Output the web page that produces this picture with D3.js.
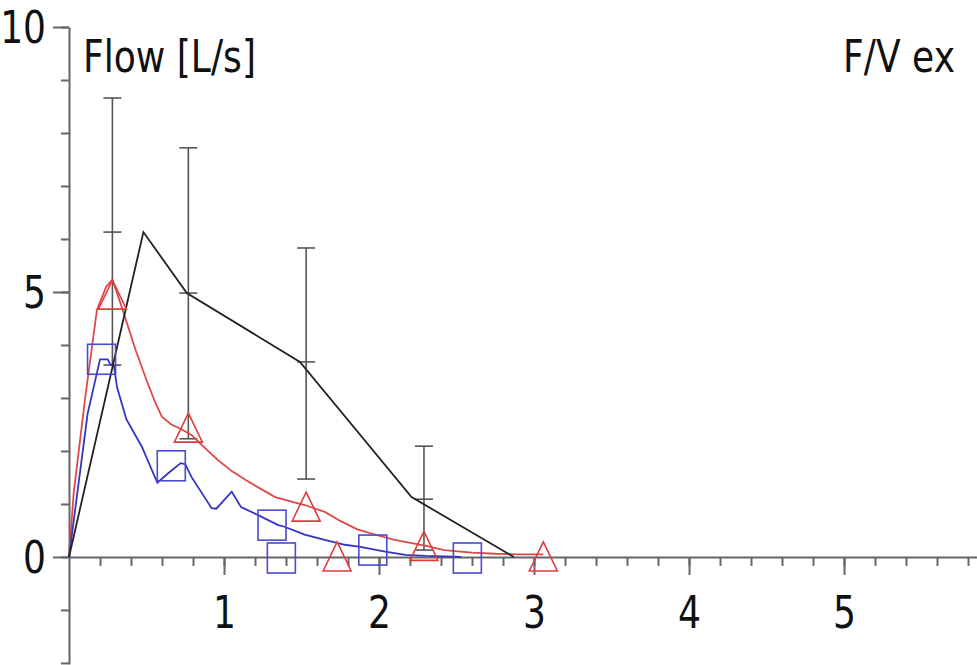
<!DOCTYPE html>
<html>
<head>
<meta charset="utf-8">
<script src="https://cdn.jsdelivr.net/npm/d3@7"></script>
<style>
    body { margin: 0; background: #fff; }
    svg text { font-family: 'DejaVu Sans', sans-serif; fill: #111; }
</style>
</head>
<body>
<svg></svg>
<script>
// Mean curve (black) with error bars
const meanX = [0, 0.48, 0.76, 1.49, 2.21, 2.87]
const meanY = [0, 6.13, 4.98, 3.68, 1.13, 0]

const errX = [0.28, 0.77, 1.53, 2.29]
const errMid = [6.13, 4.98, 3.68, 1.09]
const errHi = [8.66, 7.72, 5.83, 2.09]
const errLo = [3.62, 2.23, 1.47, 0.13]

// Red curve + triangle markers
const redX = [0, 0.03, 0.1, 0.18, 0.24, 0.28, 0.34, 0.43, 0.5, 0.55, 0.6, 0.66, 0.72, 0.79, 0.88, 0.96, 1.05, 1.14, 1.24, 1.33, 1.43, 1.52, 1.65, 1.75, 1.86, 2.0, 2.1, 2.21, 2.32, 2.42, 2.6, 2.75, 2.9, 3.06]
const redY = [0, 1.2, 2.9, 4.66, 5.1, 5.23, 4.72, 3.9, 3.34, 2.96, 2.64, 2.5, 2.42, 2.3, 2.05, 1.83, 1.62, 1.45, 1.28, 1.13, 1.05, 0.98, 0.85, 0.68, 0.52, 0.4, 0.32, 0.26, 0.2, 0.13, 0.08, 0.06, 0.05, 0.05]
const triX = [0.28, 0.77, 1.53, 1.73, 2.29, 3.06]
const triY = [4.94, 2.43, 0.94, 0, 0.2, 0]

// Blue curve + square markers
const blueX = [0, 0.12, 0.2, 0.25, 0.265, 0.29, 0.31, 0.37, 0.47, 0.57, 0.64, 0.72, 0.75, 0.79, 0.92, 0.95, 1.05, 1.11, 1.22, 1.35, 1.39, 1.52, 1.65, 1.78, 1.88, 2.04, 2.17, 2.3, 2.53]
const blueY = [0, 2.7, 3.73, 3.73, 3.64, 3.6, 3.2, 2.6, 2.08, 1.4, 1.58, 1.77, 1.75, 1.51, 0.92, 0.91, 1.23, 0.94, 0.79, 0.6, 0.57, 0.42, 0.32, 0.23, 0.19, 0.1, 0.04, 0.02, 0]
const sqX = [0.21, 0.66, 1.31, 1.37, 1.96, 2.57]
const sqY = [3.73, 1.72, 0.6, -0.02, 0.13, -0.02]

// Axis ticks and labels
const xMajor = [1, 2, 3, 4, 5]
const xMinor = d3.range(1, 30).map(i => i / 5)
const yMajor = [0, 5, 10]
const yMinor = d3.range(-2, 11)

const yTitle = 'Flow [L/s]'
const chartTitle = 'F/V ex'

// Canvas setup
let svg = d3.select('svg')
let width = 977
let height = 665
svg.attr('width', width).attr('height', height)

let xScale = d3.scaleLinear().domain([0, 5.858]).range([69, 977])
let yScale = d3.scaleLinear().domain([-2.02, 10]).range([664, 27])

let axisColor = '#666'
let squeeze = 0.82 // original font is a narrow Tahoma-like face

// minor ticks first, majors on top
svg.append('g')
    .attr('transform', 'translate(0,' + yScale(0) + ')')
    .call(d3.axisBottom(xScale).tickValues(xMinor).tickSize(9).tickSizeOuter(0).tickFormat(''))
let xMaj = svg.append('g')
    .attr('transform', 'translate(0,' + yScale(0) + ')')
    .call(d3.axisBottom(xScale).tickValues(xMajor).tickSize(18).tickSizeOuter(0).tickPadding(22).tickFormat(d3.format('d')))
xMaj.select('.domain').remove()

svg.append('g')
    .attr('transform', 'translate(' + xScale(0) + ',0)')
    .call(d3.axisLeft(yScale).tickValues(yMinor).tickSize(8).tickSizeOuter(0).tickFormat(''))
let yMaj = svg.append('g')
    .attr('transform', 'translate(' + xScale(0) + ',0)')
    .call(d3.axisLeft(yScale).tickValues(yMajor).tickSize(16).tickSizeOuter(0).tickPadding(12).tickFormat(d3.format('d')))
yMaj.select('.domain').remove()

svg.selectAll('.domain, .tick line')
    .attr('stroke', axisColor)
    .attr('stroke-width', 2)
svg.selectAll('.tick text')
    .style('font-size', '44px')
    .attr('fill', '#111')
    .attr('transform', 'scale(' + squeeze + ',1)')
yMaj.selectAll('.tick text').attr('dy', '0.36em')

// Titles
svg.append('text')
    .attr('transform', 'translate(83,72) scale(' + squeeze + ',1)')
    .style('font-size', '44px')
    .text(yTitle)
svg.append('text')
    .attr('transform', 'translate(955,72) scale(' + squeeze + ',1)')
    .attr('text-anchor', 'end')
    .style('font-size', '44px')
    .text(chartTitle)

let line = d3.line()
    .x(d => xScale(d[0]))
    .y(d => yScale(d[1]))

// Error bars
let errData = errX.map((x, i) => [x, errMid[i], errHi[i], errLo[i]])
let eb = svg.append('g').attr('stroke', '#555').attr('stroke-width', 1.6)
errData.forEach(d => {
    let cx = xScale(d[0])
    eb.append('line').attr('x1', cx).attr('x2', cx).attr('y1', yScale(d[2])).attr('y2', yScale(d[3]))
    ;[d[1], d[2], d[3]].forEach(v => {
        eb.append('line').attr('x1', cx - 9).attr('x2', cx + 9).attr('y1', yScale(v)).attr('y2', yScale(v))
    })
})

// Curves
svg.append('path')
    .datum(redX.map((x, i) => [x, redY[i]]))
    .attr('d', line.curve(d3.curveLinear))
    .attr('fill', 'none').attr('stroke', '#e04848').attr('stroke-width', 1.8)

svg.append('path')
    .datum(blueX.map((x, i) => [x, blueY[i]]))
    .attr('d', line.curve(d3.curveLinear))
    .attr('fill', 'none').attr('stroke', '#3434c4').attr('stroke-width', 1.8)

svg.append('path')
    .datum(meanX.map((x, i) => [x, meanY[i]]))
    .attr('d', line.curve(d3.curveLinear))
    .attr('fill', 'none').attr('stroke', '#222').attr('stroke-width', 1.8)

// Markers
svg.selectAll('.tri')
    .data(triX.map((x, i) => [x, triY[i]]))
    .enter()
    .append('path')
    .attr('class', 'tri')
    .attr('d', d => {
        let cx = xScale(d[0]), cy = yScale(d[1])
        return 'M' + cx + ',' + (cy - 15) + 'L' + (cx + 14) + ',' + (cy + 14) + 'L' + (cx - 14) + ',' + (cy + 14) + 'Z'
    })
    .attr('fill', 'none').attr('stroke', '#e03c3c').attr('stroke-width', 1.6)

svg.selectAll('.sq')
    .data(sqX.map((x, i) => [x, sqY[i]]))
    .enter()
    .append('rect')
    .attr('class', 'sq')
    .attr('x', d => xScale(d[0]) - 14)
    .attr('y', d => yScale(d[1]) - 15)
    .attr('width', 28)
    .attr('height', 30)
    .attr('fill', 'none').attr('stroke', '#4a4ad0').attr('stroke-width', 1.6)
</script>
</body>
</html>
